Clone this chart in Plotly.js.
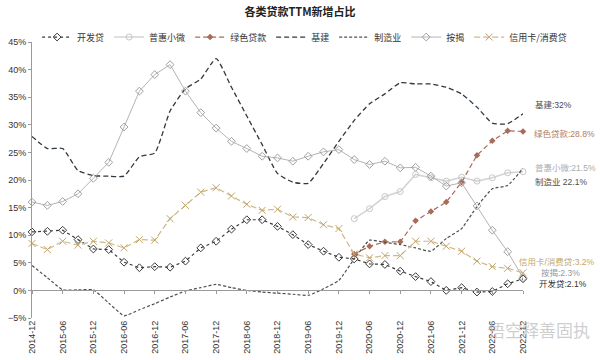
<!DOCTYPE html>
<html><head><meta charset="utf-8">
<script src="https://cdn.plot.ly/plotly-3.0.1.min.js"></script>
<style>html,body{margin:0;padding:0;background:#fff}#c{width:600px;height:360px}</style>
</head><body><div id="c"></div>
<script>
const quarters = ["2014-12","2015-03","2015-06","2015-09","2015-12","2016-03","2016-06","2016-09","2016-12","2017-03","2017-06","2017-09","2017-12","2018-03","2018-06","2018-09","2018-12","2019-03","2019-06","2019-09","2019-12","2020-03","2020-06","2020-09","2020-12","2021-03","2021-06","2021-09","2021-12","2022-03","2022-06","2022-09","2022-12"];
const tickLabels = ["2014-12","2015-06","2015-12","2016-06","2016-12","2017-06","2017-12","2018-06","2018-12","2019-06","2019-12","2020-06","2020-12","2021-06","2021-12","2022-06","2022-12"];
const devLoan = [10.6,10.7,10.9,9.2,7.5,7.4,5.1,4.1,4.3,4.2,5.3,7.7,8.9,11.1,12.8,12.8,11.6,10.1,8.3,7.1,6.0,5.7,4.8,4.7,3.5,2.5,1.6,0.0,0.5,-0.3,-0.2,1.2,2.1];
const inclusiveSmall = [null,null,null,null,null,null,null,null,null,null,null,null,null,null,null,null,null,null,null,null,null,13.0,14.8,17.0,17.9,21.0,20.4,19.8,20.5,19.8,20.4,21.3,21.5];
const greenLoan = [null,null,null,null,null,null,null,null,null,null,null,null,null,null,null,null,null,null,null,null,null,6.6,8.0,8.8,8.8,12.6,14.3,16.0,19.6,24.5,27.1,28.9,28.8];
const infra = [27.9,25.7,25.7,21.7,20.8,20.7,20.7,24.2,24.9,32.5,36.5,38.3,42.0,36.8,31.6,26.4,21.2,19.6,19.4,23.0,27.0,30.8,33.8,35.6,37.6,37.4,37.4,36.8,35.6,33.2,30.3,30.2,32.0];
const manufacturing = [4.5,2.3,0.1,0.1,0.1,-2.3,-4.6,-3.5,-2.4,-1.2,-0.1,0.5,1.1,0.5,0.0,-0.3,-0.5,-0.7,-0.9,0.3,1.8,5.7,9.1,8.7,8.3,7.7,7.1,9.4,11.2,15.2,18.4,19.0,22.1];
const mortgage = [16.0,15.4,16.1,17.5,20.3,23.2,29.6,36.1,39.1,40.9,36.1,32.2,29.4,27.0,25.7,24.3,24.0,23.4,24.3,25.1,25.5,23.7,22.8,23.4,22.2,22.3,20.7,18.9,19.5,15.3,10.9,7.0,2.3];
const consumer = [8.5,7.4,8.9,8.2,8.9,8.6,7.7,9.2,9.1,13.0,15.4,17.8,18.6,17.1,15.6,14.5,14.7,13.3,13.2,11.9,11.2,6.6,5.9,6.3,6.3,8.9,8.9,8.0,7.1,5.3,4.3,4.0,3.2];
const seriesNames = ["开发贷","普惠小微","绿色贷款","基建","制造业","按揭","信用卡/消费贷"];
const endLabels = ["基建:32%","绿色贷款:28.8%","普惠小微:21.5%","制造业 22.1%","信用卡/消费贷:3.2%","按揭:2.3%","开发贷:2.1%"];

const FONT = "Liberation Sans, Noto Sans CJK SC, sans-serif";
const traces = [
  {name: seriesNames[0], y: devLoan, line:{color:'#3a3a3a', width:1.2, dash:'dot'},
   mode:'lines+markers', marker:{symbol:'diamond-open', size:6, color:'#3a3a3a', line:{width:1}}},
  {name: seriesNames[1], y: inclusiveSmall, line:{color:'#d4d4d4', width:1.6},
   mode:'lines+markers', marker:{symbol:'circle-open', size:6, color:'#c8c8c8', line:{width:1}}},
  {name: seriesNames[2], y: greenLoan, line:{color:'#a86c58', width:1.2, dash:'5px,3px'},
   mode:'lines+markers', marker:{symbol:'diamond', size:5, color:'#a86c58'}},
  {name: seriesNames[3], y: infra, line:{color:'#2e3840', width:1.3, dash:'5px,3px', shape:'spline', smoothing:0.5},
   mode:'lines'},
  {name: seriesNames[4], y: manufacturing, line:{color:'#505048', width:1.2, dash:'3px,2px', shape:'spline', smoothing:0.4},
   mode:'lines'},
  {name: seriesNames[5], y: mortgage, line:{color:'#b4b4b4', width:1},
   mode:'lines+markers', marker:{symbol:'diamond-open', size:6, color:'#a0a0a0', line:{width:1}}},
  {name: seriesNames[6], y: consumer, line:{color:'#cdb887', width:1.2, dash:'6px,3px'},
   mode:'lines+markers', marker:{symbol:'x-thin-open', size:7, color:'#c0a468', line:{width:1, color:'#c0a468'}}}
].map(t => Object.assign({type:'scatter', x: quarters, cliponaxis:false, hoverinfo:'skip', connectgaps:false}, t));

// helper axis drawn on the 0% level (ticks on the zero line)
traces.push({type:'scatter', x: quarters, y: infra, xaxis:'x2', mode:'lines', opacity:0,
  showlegend:false, hoverinfo:'skip', line:{width:0}});

const labelColors = ['#3c4c5e','#b07a62','#acacac','#505050','#c4a866','#8a9aac','#303030'];
const labelY = [33.5, 28.3, 22.1, 19.7, 5.1, 3.1, 1.1];
const labelX = [1.020, 1.018, 1.020, 1.020, 0.988, 1.032, 1.028];
const annotations = endLabels.map((t,i)=>({text:t, xref:'paper', yref:'y', x:labelX[i], y:labelY[i],
  xanchor:'left', yanchor:'middle', showarrow:false, font:{size:8.5, color:labelColors[i], family:FONT}}));
annotations.push({text:'悟空释善固执', xref:'paper', yref:'paper', x:1.14, y:-0.04, xanchor:'right', yanchor:'middle',
  showarrow:false, font:{size:17, color:'rgba(190,190,190,0.75)', family:'Noto Sans CJK SC'}});

const layout = {
  width:600, height:360,
  margin:{l:32, r:77, t:42, b:42},
  paper_bgcolor:'#fff', plot_bgcolor:'#fff',
  font:{family:FONT, size:9, color:'#333'},
  title:{text:'<b>各类贷款TTM新增占比</b>', x:0.5, xref:'container', xanchor:'center', y:0.965, yanchor:'middle',
    font:{size:11, color:'#222', family:'Noto Sans CJK SC, sans-serif'}},
  showlegend:true,
  legend:{orientation:'h', xref:'paper', yref:'paper', x:1.1, xanchor:'right', y:1.018, yanchor:'middle',
    font:{size:9, color:'#333', family:'Noto Sans CJK SC, sans-serif'}, itemwidth:30, tracegroupgap:0},
  xaxis:{type:'category', range:[0, quarters.length-1], tickmode:'array', tickvals:tickLabels, ticktext:tickLabels,
    tickangle:-90, showgrid:false, zeroline:false, showline:false, ticks:'', tickfont:{size:9, color:'#333'}},
  xaxis2:{type:'category', overlaying:'x', anchor:'free', position:0.1, matches:'x', range:[0, quarters.length-1],
    tickmode:'array', tickvals:tickLabels, showticklabels:false, showgrid:false, zeroline:false,
    showline:true, linecolor:'#9a9a9a', linewidth:1, ticks:'outside', ticklen:3, tickcolor:'#9a9a9a'},
  yaxis:{range:[-5,45], tickmode:'linear', tick0:-5, dtick:5, ticksuffix:'%', showgrid:false, zeroline:false,
    showline:true, linecolor:'#9a9a9a', linewidth:1, ticks:'outside', ticklen:3, tickcolor:'#9a9a9a',
    tickfont:{size:9, color:'#333'}},
  annotations: annotations
};
Plotly.newPlot('c', traces, layout, {displayModeBar:false, staticPlot:true});
</script></body></html>
